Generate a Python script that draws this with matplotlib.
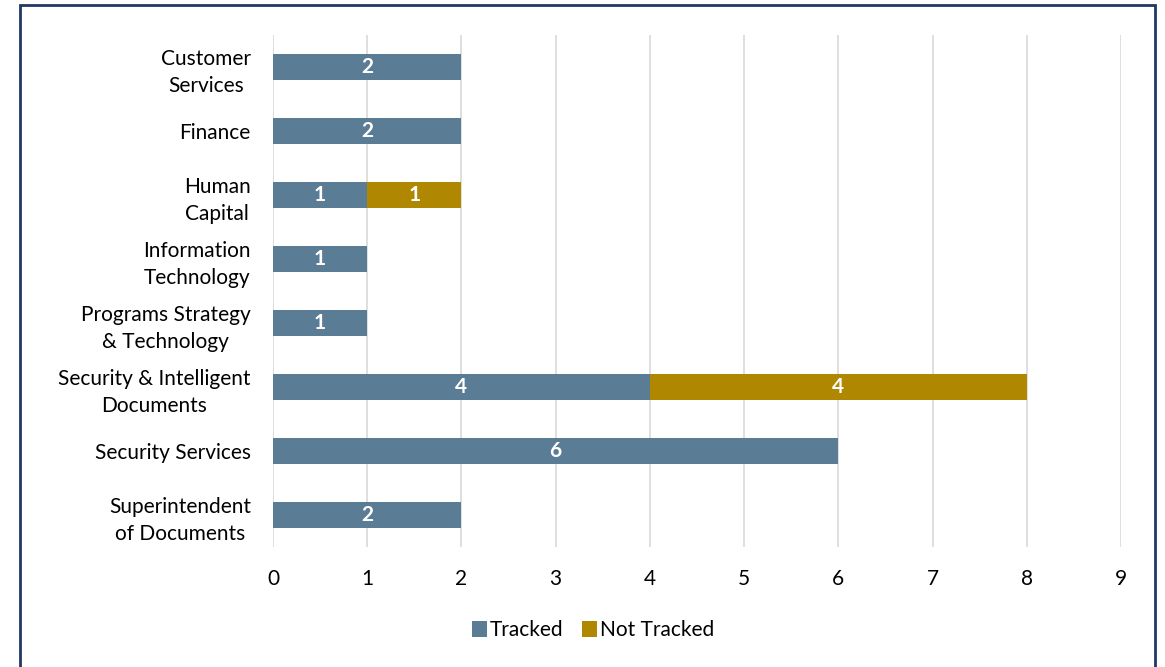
import matplotlib.pyplot as plt
from matplotlib.patches import Rectangle

categories = ['Customer\nServices', 'Finance', 'Human\nCapital', 'Information\nTechnology',
              'Programs Strategy\n& Technology', 'Security & Intelligent\nDocuments',
              'Security Services', 'Superintendent\nof Documents']
tracked = [2, 2, 1, 1, 1, 4, 6, 2]
not_tracked = [0, 0, 1, 0, 0, 4, 0, 0]
x_ticks = list(range(10))

blue = '#5b7c95'
gold = '#b08700'

plt.rcParams['font.family'] = ['Lato', 'DejaVu Sans']

fig = plt.figure(figsize=(11.65, 6.67), dpi=100)
ax = fig.add_axes([273 / 1165, 1 - 547 / 667, (1121 - 273) / 1165, (547 - 35) / 667])

# figure border (bottom edge runs off the image)
fig.patches.append(Rectangle((20 / 1165, -0.05), (1155 - 20) / 1165, 1.05 - 5 / 667,
                             transform=fig.transFigure, fill=False,
                             edgecolor='#1f3864', linewidth=2))

y = list(range(len(categories)))
b1 = ax.barh(y, tracked, height=0.4, color=blue, label='Tracked', zorder=3)
b2 = ax.barh(y, not_tracked, left=tracked, height=0.4, color=gold, label='Not Tracked', zorder=3)

for bars, vals in ((b1, tracked), (b2, not_tracked)):
    for bar, v in zip(bars, vals):
        if v > 0:
            ax.text(bar.get_x() + bar.get_width() / 2, bar.get_y() + bar.get_height() / 2,
                    str(v), ha='center', va='center', color='white',
                    fontsize=15, fontweight='bold', zorder=4)

ax.set_ylim(len(categories) - 0.5, -0.5)
ax.set_xlim(0, 9)
ax.set_xticks(x_ticks)
ax.set_yticks(y)
ax.set_yticklabels(categories, ha='right', multialignment='center', linespacing=1.45)
ax.tick_params(axis='y', length=0, pad=16, labelsize=15)
ax.tick_params(axis='x', length=0, pad=16, labelsize=15)
ax.grid(axis='x', color='#d9d9d9', linewidth=1.2, zorder=0)
for s in ax.spines.values():
    s.set_visible(False)

# legend sits centred on the whole figure, not the plot area
fig.legend(handles=[b1, b2], loc='center', bbox_to_anchor=(593 / 1165, 1 - 630 / 667),
           ncol=2, frameon=False, fontsize=15, handlelength=0.7, handleheight=0.8,
           handletextpad=0.15, columnspacing=0.9)

fig.savefig('out.png', dpi=100)
